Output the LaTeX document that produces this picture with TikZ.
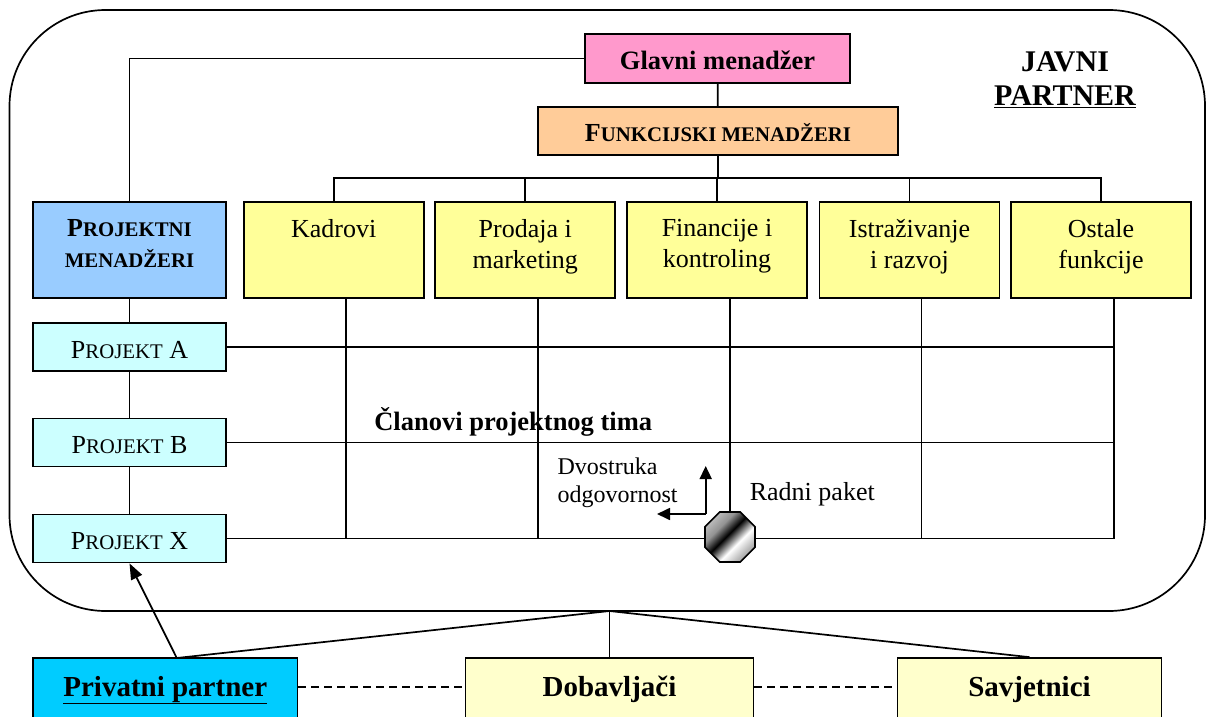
\documentclass[tikz,border=0pt]{standalone}
\usepackage{fontspec}
\setmainfont{Liberation Serif}
\usetikzlibrary{shapes.geometric,arrows.meta}
\definecolor{pinkbox}{HTML}{FF99CC}
\definecolor{peach}{HTML}{FFCC99}
\definecolor{yel}{HTML}{FFFF99}
\definecolor{blu}{HTML}{99CCFF}
\definecolor{cyanlight}{HTML}{CCFFFF}
\definecolor{privcol}{HTML}{00CCFF}
\definecolor{palecol}{HTML}{FFFFCC}
\newcommand\fsz[2]{\fontsize{#1}{#2}\selectfont}
\newcommand\smcap[1]{{\fontsize{20.8}{24}\selectfont #1}}
\newcommand\ytext[1]{\parbox[c][60.6pt][t]{180pt}{\centering\fsz{26}{31}#1}}
\pgfdeclarehorizontalshading{octshade}{100bp}{color(0bp)=(gray!40); color(22bp)=(gray!45); color(36bp)=(gray!85); color(47bp)=(black); color(60bp)=(white); color(72bp)=(gray!60); color(100bp)=(gray!60)}
\begin{document}
\begin{tikzpicture}[x=1pt,y=-1pt,line width=1.7pt,
  box/.style={draw, rectangle, inner sep=0pt, line width=1.7pt},
  fbox/.style={box, fill=yel, minimum width=168pt, minimum height=96pt},
  pbox/.style={box, fill=cyanlight, minimum width=193pt, minimum height=48pt, text height=22.5pt, text depth=0pt, font=\fsz{26}{30}},
  botbox/.style={box, minimum height=100pt, text height=20pt, text depth=44pt, font=\fsz{29}{34}\bfseries},
  arr/.style={-{Triangle[length=13pt,width=12pt]}},
  dashlink/.style={dash pattern=on 8pt off 5pt},
  txt/.style={inner sep=0pt}
]
\useasboundingbox (0,0) rectangle (1207,717);
\clip (0,0) rectangle (1207,717);

% outer frame
\node[draw, rounded corners=96pt, minimum width=1195.5pt, minimum height=601pt, inner sep=0pt] (frame) at (607.25,310.5) {};

% managers
\node[box, fill=pinkbox, minimum width=265pt, minimum height=49pt, text height=21.5pt, text depth=0pt, font=\fsz{26.5}{30}\bfseries] (gm) at (717.5,58.5) {Glavni menadžer};
\node[box, fill=peach, minimum width=360pt, minimum height=48pt, text height=21.5pt, text depth=0pt, font=\fsz{26}{30}\bfseries] (fm) at (718,131) {F\smcap{UNKCIJSKI MENADŽERI}};

% functions
\node[fbox] (f1) at (333.75,250) {\ytext{Kadrovi}};
\node[fbox] (f2) at (525.25,250) {\ytext{Prodaja i\\marketing}};
\node[fbox] (f3) at (717,250) {\ytext{Financije i\\kontroling}};
\node[fbox] (f4) at (909.5,250) {\ytext{Istraživanje\\i razvoj}};
\node[fbox] (f5) at (1101,250) {\ytext{Ostale\\funkcije}};
\node[box, fill=blu, minimum width=193pt, minimum height=96pt] (pm) at (129.5,250) {\ytext{\bfseries P\smcap{ROJEKTNI}\\\smcap{MENADŽERI}}};

% projects
\node[pbox] (pa) at (129.5,347) {P\smcap{ROJEKT} A};
\node[pbox] (pb) at (129.5,442.5) {P\smcap{ROJEKT} B};
\node[pbox] (px) at (129.5,538.5) {P\smcap{ROJEKT} X};

% connectors top
\coordinate (bus) at (0,178);
\draw (gm.west) -| (pm.north);
\draw (gm) -- (fm);
\draw (fm.south) -- (fm.south |- bus);
\draw (f1.north) -- (f1.north |- bus) -| (f5.north);
\draw (f2.north) -- (f2.north |- bus);
\draw (f3.north) -- (f3.north |- bus);
\draw (f4.north) -- (f4.north |- bus);
\draw (pm) -- (pa);
\draw (pa) -- (pb);
\draw (pb) -- (px);

% grid
\coordinate (gr) at (1114,0);
\draw (pa.east) -- (pa.east -| gr);
\draw (pb.east) -- (pb.east -| gr);
\draw (px.east) -- (px.east -| gr);
\draw ([xshift=12.5pt]f1.south) -- ([xshift=12.5pt]f1.south |- px.east);
\draw ([xshift=12.5pt]f2.south) -- ([xshift=12.5pt]f2.south |- px.east);
\draw ([xshift=13pt]f3.south) -- ([xshift=13pt]f3.south |- px.east);
\draw ([xshift=12pt]f4.south) -- ([xshift=12pt]f4.south |- px.east);
\draw ([xshift=13pt]f5.south) -- ([xshift=13pt]f5.south |- px.east);

% work package
\node[regular polygon, regular polygon sides=8, minimum size=54pt, inner sep=0pt, draw, line width=1.7pt, shade, shading=octshade, shading angle=-45] (wp) at (730,537) {};

% labels
\node[txt, anchor=base, font=\fsz{30}{34}\bfseries] (jv) at (1065,71.7) {JAVNI};
\node[txt, anchor=base, font=\fsz{30}{34}\bfseries] (pt) at (1065,105.3) {\underline{PARTNER}};
\node[txt, anchor=base west, font=\fsz{26.5}{30}\bfseries] (cl) at (373.5,430) {Članovi projektnog tima};
\node[txt, anchor=north west, align=left, font=\fsz{24}{28.4}] (dv) at (556.7,457) {Dvostruka\\odgovornost};
\node[txt, anchor=base west, font=\fsz{26}{30}] (rp) at (749,500) {Radni paket};

% dual responsibility arrows
\coordinate (dc) at (705.7,514);
\coordinate (du) at (705.7,466);
\coordinate (dl) at (657,514);
\draw[arr] (dc) -- (du);
\draw[arr] (dc) -- (dl);

% bottom partners
\node[botbox, fill=privcol, minimum width=264.5pt] (pp) at (165.25,708) {\underline{Privatni partner}};
\node[botbox, fill=palecol, minimum width=288pt] (dob) at (609.5,708) {Dobavljači};
\node[botbox, fill=palecol, minimum width=264pt] (sv) at (1029.5,708) {Savjetnici};

\coordinate (jn) at (609.5,611);
\coordinate (ppt) at (176.8,658);
\draw (jn) -- (ppt);
\draw[-{Triangle[length=16pt,width=12pt]}] (ppt) -- (px.south);
\draw (jn) -- (dob.north);
\draw (jn) -- (sv.north);
\draw[dashlink] ([yshift=21pt]pp.east) -- ([yshift=21pt]dob.west);
\draw[dashlink] ([yshift=21pt]dob.east) -- ([yshift=21pt]sv.west);
\end{tikzpicture}
\end{document}
